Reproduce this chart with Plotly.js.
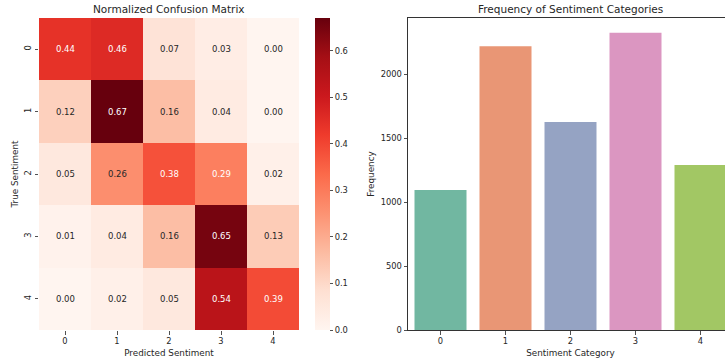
<!DOCTYPE html>
<html><head><meta charset="utf-8">
<script src="https://cdn.plot.ly/plotly-3.0.1.min.js"></script>
<style>html,body{margin:0;padding:0;overflow:hidden;background:#fff}#p{width:740px;height:362px}</style>
</head><body><div id="p"></div>
<script>
// Confusion matrix data
const labels = ["0","1","2","3","4"];
const cm = [
  [0.44,0.46,0.07,0.03,0.00],
  [0.12,0.67,0.16,0.04,0.00],
  [0.05,0.26,0.38,0.29,0.02],
  [0.01,0.04,0.16,0.65,0.13],
  [0.00,0.02,0.05,0.54,0.39]
];
// Frequency data
const categories = ["0","1","2","3","4"];
const counts = [1095, 2221, 1628, 2326, 1291];
const barColors = ["#71b7a1","#e99675","#95a3c3","#db96c1","#a2c764"];

const reds = ["#fff5f0","#fee0d2","#fcbba1","#fc9272","#fb6a4a","#ef3b2c","#cb181d","#a50f15","#67000d"];
const colorscale = reds.map((c,i)=>[i/(reds.length-1), c]);

const W = 740, H = 362;
const fx = v => v / W, fy = v => 1 - v / H;
const font = "DejaVu Sans";
const txt = "#262626";

const zmin = 0, zmax = Math.max(...cm.flat());
function hex2rgb(h){return [1,3,5].map(i=>parseInt(h.substr(i,2),16));}
function colorAt(v){
  let t = (v - zmin) / (zmax - zmin); t = Math.max(0, Math.min(1, t));
  const s = t * (reds.length - 1); const i = Math.min(Math.floor(s), reds.length - 2); const f = s - i;
  const a = hex2rgb(reds[i]), b = hex2rgb(reds[i+1]);
  return a.map((x,k)=>x + (b[k]-x)*f);
}
function lum(rgb){
  const c = rgb.map(x=>{x/=255; return x<=0.03928? x/12.92 : Math.pow((x+0.055)/1.055,2.4);});
  return 0.2126*c[0]+0.7152*c[1]+0.0722*c[2];
}

const annotations = [];
cm.forEach((row, r) => row.forEach((v, c) => {
  annotations.push({x: labels[c], y: labels[r], xref: "x", yref: "y", text: v.toFixed(2), showarrow: false,
    font: {family: font, size: 8.5, color: lum(colorAt(v)) > 0.408 ? txt : "#ffffff"}});
}));
annotations.push({x: fx(169), y: fy(9), xref: "paper", yref: "paper", xanchor: "center", yanchor: "middle", text: "Normalized Confusion Matrix", showarrow: false, font: {family: font, size: 10.5, color: txt}});
annotations.push({x: fx(570.5), y: fy(9), xref: "paper", yref: "paper", xanchor: "center", yanchor: "middle", text: "Frequency of Sentiment Categories", showarrow: false, font: {family: font, size: 10.5, color: txt}});

const data = [
  {type: "heatmap", z: cm, x: labels, y: labels, xaxis: "x", yaxis: "y", colorscale: colorscale, zmin: zmin, zmax: zmax,
   xgap: 0, ygap: 0, hoverinfo: "skip",
   colorbar: {x: fx(315), xanchor: "left", xref: "paper", y: fy(330), yanchor: "bottom", len: (330-18)/H, lenmode: "fraction",
     xpad: 0, ypad: 0,
     thickness: 15, thicknessmode: "pixels", outlinewidth: 0, ticks: "outside", ticklen: 3.5, tickwidth: 0.8, tickcolor: txt,
     tickvals: [0,0.1,0.2,0.3,0.4,0.5,0.6], ticktext: ["0.0","0.1","0.2","0.3","0.4","0.5","0.6"],
     tickfont: {family: font, size: 8.3, color: txt}}},
  {type: "bar", x: categories, y: counts, xaxis: "x2", yaxis: "y2", marker: {color: barColors, line: {width: 0}}, width: 0.8, hoverinfo: "skip"}
];

const axFont = {family: font, size: 8.3, color: txt};
const layout = {
  width: W, height: H, margin: {l: 0, r: 0, t: 0, b: 0}, paper_bgcolor: "#fff", plot_bgcolor: "#fff", showlegend: false,
  annotations: annotations,
  xaxis: {domain: [fx(39), fx(299)], anchor: "y", type: "category", showgrid: false, zeroline: false, showline: false,
    ticks: "outside", ticklen: 3.5, tickwidth: 0.8, tickcolor: txt, tickfont: axFont,
    title: {text: "Predicted Sentiment", font: {family: font, size: 8.8, color: txt}, standoff: 4}},
  yaxis: {domain: [fy(330), fy(18)], anchor: "x", type: "category", autorange: "reversed", showgrid: false, zeroline: false, showline: false,
    ticks: "outside", ticklen: 3.5, tickwidth: 0.8, tickcolor: txt, tickfont: axFont, tickangle: -90,
    title: {text: "True Sentiment", font: {family: font, size: 8.8, color: txt}, standoff: 3}},
  xaxis2: {domain: [fx(408), fx(733)], anchor: "y2", type: "category", range: [-0.5, 4.5], showgrid: false, zeroline: false,
    showline: true, linecolor: "#333", linewidth: 1, mirror: true,
    ticks: "outside", ticklen: 3.5, tickwidth: 0.8, tickcolor: txt, tickfont: axFont,
    title: {text: "Sentiment Category", font: {family: font, size: 8.8, color: txt}, standoff: 4}},
  yaxis2: {domain: [fy(330), fy(18)], anchor: "x2", range: [0, 2442], showgrid: false, zeroline: false,
    showline: true, linecolor: "#333", linewidth: 1, mirror: true,
    ticks: "outside", ticklen: 3.5, tickwidth: 0.8, tickcolor: txt, tickfont: axFont, tickvals: [0,500,1000,1500,2000],
    title: {text: "Frequency", font: {family: font, size: 8.8, color: txt}, standoff: 4}}
};
Plotly.newPlot("p", data, layout, {staticPlot: true, displayModeBar: false});
</script></body></html>
